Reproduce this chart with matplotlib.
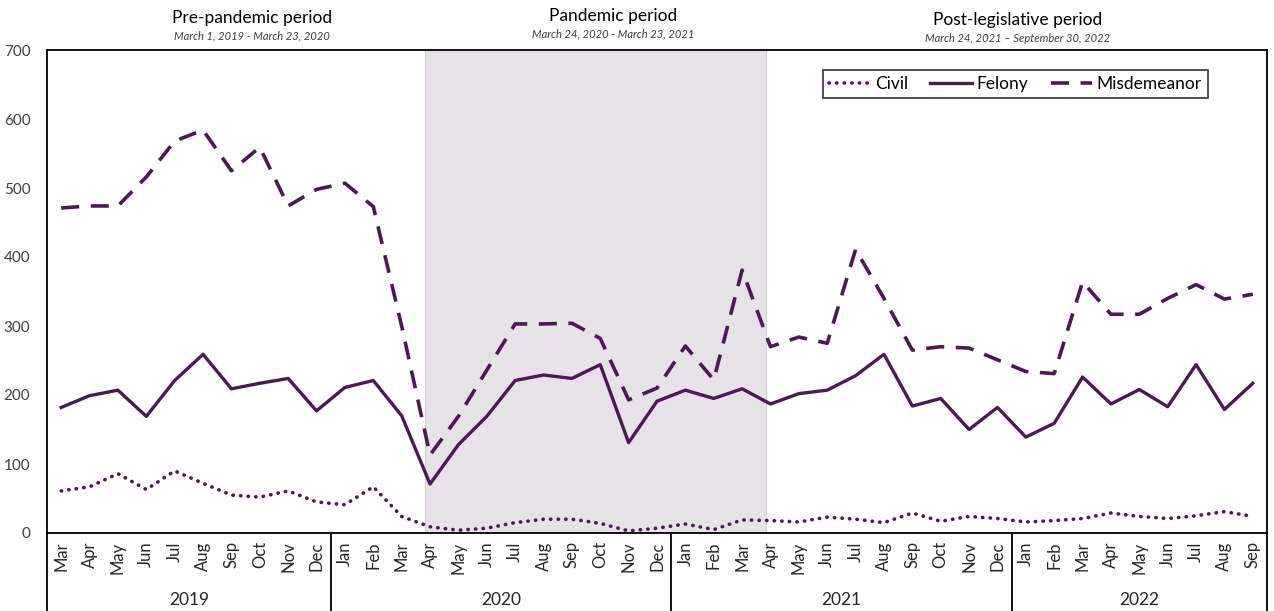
import matplotlib
matplotlib.use("Agg")
import matplotlib.pyplot as plt
import matplotlib.transforms as mtransforms
from matplotlib.lines import Line2D

plt.rcParams['font.family'] = ['Lato', 'DejaVu Sans']

months = ["Mar", "Apr", "May", "Jun", "Jul", "Aug", "Sep", "Oct", "Nov", "Dec",
          "Jan", "Feb", "Mar", "Apr", "May", "Jun", "Jul", "Aug", "Sep", "Oct", "Nov", "Dec",
          "Jan", "Feb", "Mar", "Apr", "May", "Jun", "Jul", "Aug", "Sep", "Oct", "Nov", "Dec",
          "Jan", "Feb", "Mar", "Apr", "May", "Jun", "Jul", "Aug", "Sep"]
years = ["2019", "2020", "2021", "2022"]
year_counts = [10, 12, 12, 9]

civil = [61, 67, 86, 63, 90, 72, 55, 52, 61, 45,
         41, 67, 24, 9, 4, 7, 15, 20, 20, 14, 3, 7,
         13, 5, 19, 18, 16, 23, 20, 15, 29, 17, 24, 21,
         16, 18, 21, 29, 24, 21, 25, 31, 24]
felony = [182, 199, 207, 169, 221, 259, 209, 217, 224, 177,
          211, 221, 170, 71, 128, 169, 221, 229, 224, 244, 131, 191,
          207, 195, 209, 187, 202, 207, 228, 259, 184, 195, 150, 182,
          139, 159, 226, 187, 208, 183, 244, 179, 217]
misdemeanor = [471, 474, 474, 516, 568, 584, 525, 559, 474, 498,
               507, 473, 300, 113, 169, 236, 303, 303, 304, 282, 193, 210,
               271, 222, 381, 270, 284, 275, 411, 340, 265, 270, 268, 251,
               234, 231, 364, 317, 317, 340, 360, 339, 346]

periods = ["Pre-pandemic period", "Pandemic period", "Post-legislative period"]
period_dates = ["March 1, 2019 - March 23, 2020", "March 24, 2020 - March 23, 2021",
                "March 24, 2021 \u2013 September 30, 2022"]

color = "#4B1A55"

fig = plt.figure(figsize=(12.74, 6.11), dpi=100)
ax = fig.add_axes([47/1274, 78/611, 1220/1274, 483/611])

x = list(range(len(months)))
ax.axvspan(12.83, 24.83, facecolor="#E7E2E8", edgecolor="#D2CDD4", lw=0.8, zorder=0)

ax.plot(x, civil, color=color, lw=2.6, linestyle=(0, (0.1, 2.0)), dash_capstyle="round",
        solid_capstyle="round", label="Civil", zorder=3)
ax.plot(x, felony, color=color, lw=2.4, label="Felony", zorder=3)
ax.plot(x, misdemeanor, color=color, lw=2.6, linestyle=(0, (5, 3.2)), label="Misdemeanor", zorder=3)

ax.set_xlim(-0.5, len(months) - 0.5)
ax.set_ylim(0, 700)
ax.set_yticks(range(0, 701, 100))
ax.tick_params(axis="y", length=0, labelsize=11, labelcolor="#404040", pad=12)
ax.set_xticks(x)
ax.set_xticklabels(months, rotation=90, fontsize=12, color="#262626")
ax.tick_params(axis="x", length=0, pad=6)
for s in ax.spines.values():
    s.set_color("black")
    s.set_linewidth(1.3)

# year separators and labels
trans = mtransforms.blended_transform_factory(ax.transData, ax.transAxes)
bounds = [-0.5]
for c in year_counts:
    bounds.append(bounds[-1] + c)
for b in bounds:
    ax.add_line(Line2D([b, b], [0, -0.17], transform=trans, color="black", lw=1.3, clip_on=False))
for i, yr in enumerate(years):
    cx = (bounds[i] + bounds[i + 1]) / 2
    ax.text(cx, -0.139, yr, transform=trans, ha="center", va="center", fontsize=12.5, color="#262626")

leg = ax.legend(loc="upper right", bbox_to_anchor=((1208 - 47)/1220, 1 - 20/483), ncol=3, frameon=True,
                fancybox=False, edgecolor="black", fontsize=12.5, handlelength=2.4,
                columnspacing=1.3, handletextpad=0.25, borderpad=0.35, borderaxespad=0)
leg.get_frame().set_linewidth(1.2)

# period headers
px = [252, 613, 1018]
py = [18, 16, 20]
for p, d, xx, yy in zip(periods, period_dates, px, py):
    fig.text(xx/1274, 1 - yy/611, p, ha="center", va="center", fontsize=12.5, color="black")
    fig.text(xx/1274, 1 - (yy + 18)/611, d, ha="center", va="center", fontsize=8,
             style="italic", color="#404040")

fig.savefig("out.png", dpi=100)
